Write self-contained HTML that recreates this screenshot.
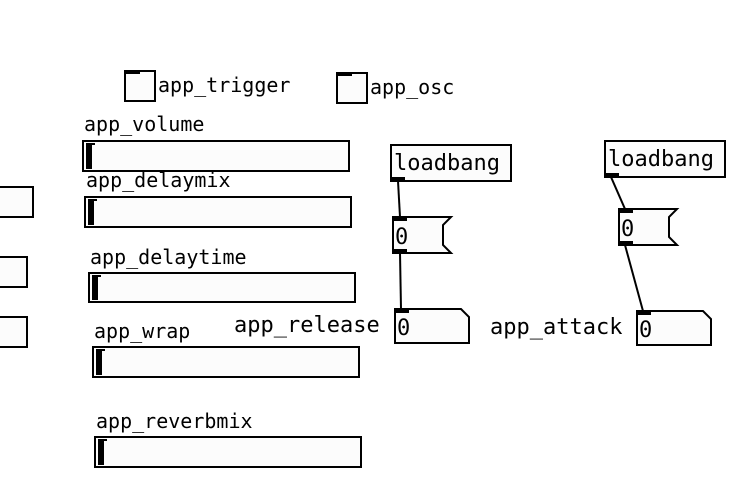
<!DOCTYPE html>
<html><head><meta charset="utf-8"><style>
html,body{margin:0;padding:0;background:#fff;width:748px;height:502px;overflow:hidden}
text{font-family:"DejaVu Sans Mono","Liberation Mono",monospace;fill:#000}
</style></head><body>
<svg width="748" height="502" xmlns="http://www.w3.org/2000/svg">
<g fill="#fcfcfc" stroke="#000" stroke-width="2">
<rect x="125" y="71" width="30" height="30"/>
<rect x="337" y="73" width="30" height="30"/>
<rect x="-5" y="187" width="38" height="30"/>
<rect x="-5" y="257" width="32" height="30"/>
<rect x="-5" y="317" width="32" height="30"/>
<rect x="83" y="141" width="266" height="30"/>
<rect x="85" y="197" width="266" height="30"/>
<rect x="89" y="273" width="266" height="29"/>
<rect x="93" y="347" width="266" height="30"/>
<rect x="95" y="437" width="266" height="30"/>
<rect x="391" y="145" width="120" height="36"/>
<rect x="605" y="141" width="120" height="36"/>
<path d="M393,217 H451 L443,225 V245 L451,253 H393 Z"/>
<path d="M619,209 H677 L669,217 V237 L677,245 H619 Z"/>
<path d="M395,309 H461 L469,317 V343 H395 Z"/>
<path d="M637,311 H703 L711,319 V345 H637 Z"/>
</g>
<g fill="#000">
<rect x="126" y="71" width="14" height="3"/>
<rect x="338" y="73" width="14" height="3"/>
<rect x="86" y="143" width="6" height="26"/><rect x="86" y="143" width="9" height="2"/>
<rect x="88" y="199" width="6" height="26"/><rect x="88" y="199" width="9" height="2"/>
<rect x="92" y="275" width="6" height="25"/><rect x="92" y="275" width="9" height="2"/>
<rect x="96" y="349" width="6" height="26"/><rect x="96" y="349" width="9" height="2"/>
<rect x="98" y="439" width="6" height="26"/><rect x="98" y="439" width="9" height="2"/>
<rect x="391" y="177" width="14" height="4"/>
<rect x="605" y="173" width="14" height="4"/>
<rect x="393" y="217" width="14" height="4"/>
<rect x="393" y="249" width="14" height="4"/>
<rect x="619" y="209" width="14" height="4"/>
<rect x="619" y="241" width="14" height="4"/>
<rect x="395" y="309" width="14" height="4"/>
<rect x="637" y="311" width="14" height="4"/>
</g>
<g stroke="#000" stroke-width="2">
<line x1="398" y1="181" x2="400" y2="217"/>
<line x1="400" y1="253" x2="401" y2="309"/>
<line x1="611" y1="177" x2="625" y2="209"/>
<line x1="625" y1="245" x2="643" y2="311"/>
</g>
<g font-size="20">
<text x="158" y="92">app_trigger</text>
<text x="370" y="94">app_osc</text>
<text x="84" y="131">app_volume</text>
<text x="86" y="187">app_delaymix</text>
<text x="90" y="264">app_delaytime</text>
<text x="94" y="338">app_wrap</text>
<text x="96" y="428">app_reverbmix</text>
</g>
<g font-size="22">
<text x="394" y="170">loadbang</text>
<text x="608" y="166">loadbang</text>
<text x="395" y="244">0</text>
<text x="621" y="236">0</text>
<text x="397" y="335">0</text>
<text x="639" y="337">0</text>
<text x="234" y="332">app_release</text>
<text x="490" y="334">app_attack</text>
</g>
</svg>
</body></html>
